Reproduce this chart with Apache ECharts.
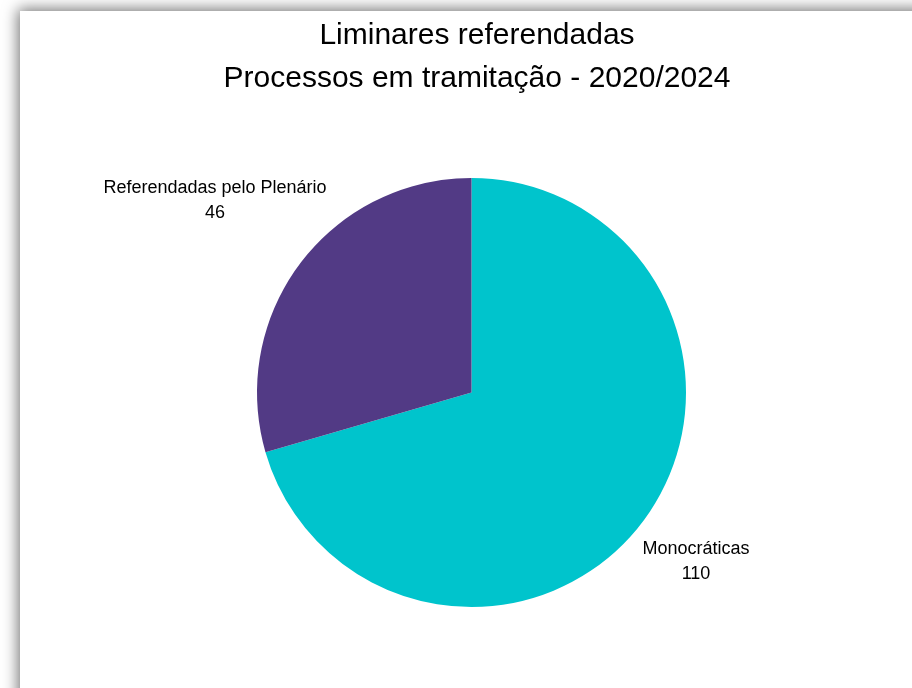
<!DOCTYPE html>
<html>
<head>
<meta charset="utf-8">
<title>Liminares referendadas</title>
<script src="https://cdn.jsdelivr.net/npm/echarts@6/dist/echarts.min.js"></script>
<style>
  html, body { margin: 0; padding: 0; background: #ffffff; }
  #chart { width: 912px; height: 688px; }
</style>
</head>
<body>
<div id="chart"></div>
<script>
// Categories and counts of injunctions
const categories = ['Monocráticas', 'Referendadas pelo Plenário'];
const counts = [110, 46];
const colors = ['#00C4CC', '#523A85'];

const titleLines = ['Liminares referendadas', 'Processos em tramitação - 2020/2024'];

// Label anchor points (label centres) for each slice
const labelAnchors = [
  { x: 696, y: 562 },
  { x: 215, y: 201 }
];

const chart = echarts.init(document.getElementById('chart'), null, { renderer: 'canvas' });

const option = {
  backgroundColor: '#ffffff',
  animation: false,
  graphic: [
    {
      type: 'rect',
      z: -10,
      shape: { x: 20, y: 11, width: 1000, height: 1000 },
      style: {
        fill: '#ffffff',
        shadowBlur: 14,
        shadowColor: 'rgba(0,0,0,0.55)',
        shadowOffsetX: -2,
        shadowOffsetY: -2
      }
    }
  ],
  title: {
    text: titleLines.join('\n'),
    left: 472,
    top: 9,
    textAlign: 'center',
    textStyle: {
      fontFamily: 'Liberation Sans, Arial, sans-serif',
      fontSize: 30,
      fontWeight: 'normal',
      color: '#000000',
      lineHeight: 43
    }
  },
  series: [
    {
      type: 'pie',
      center: [471.5, 392.5],
      radius: [0, 214.5],
      startAngle: 90,
      clockwise: true,
      silent: true,
      itemStyle: { borderWidth: 0 },
      label: {
        show: true,
        position: 'outside',
        formatter: function (p) { return p.name + '\n' + p.value; },
        fontFamily: 'Liberation Sans, Arial, sans-serif',
        fontSize: 18,
        color: '#000000',
        lineHeight: 25,
        align: 'center'
      },
      labelLine: { show: false },
      labelLayout: function (params) {
        const a = labelAnchors[params.dataIndex];
        return { x: a.x, y: a.y, align: 'center', verticalAlign: 'middle' };
      },
      data: categories.map(function (name, i) {
        return { name: name, value: counts[i], itemStyle: { color: colors[i] } };
      })
    }
  ]
};

chart.setOption(option);
</script>
</body>
</html>
